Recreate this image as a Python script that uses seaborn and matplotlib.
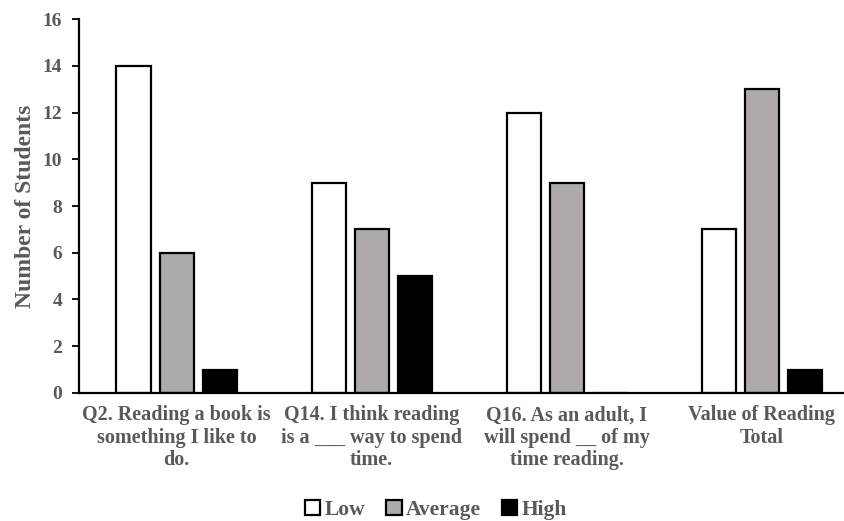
import matplotlib
matplotlib.use("Agg")
import matplotlib.pyplot as plt
import seaborn as sns
import pandas as pd

questions = [
    "Q2. Reading a book is\nsomething I like to\ndo.",
    "Q14. I think reading\nis a ___ way to spend\ntime.",
    "Q16. As an adult, I\nwill spend __ of my\ntime reading.",
    "Value of Reading\nTotal",
]
levels = ["Low", "Average", "High"]
low = [14, 9, 12, 7]
average = [6, 7, 9, 13]
high = [1, 5, 0, 1]
y_ticks = [0, 2, 4, 6, 8, 10, 12, 14, 16]

rows = []
for level, values in zip(levels, [low, average, high]):
    for q, v in zip(questions, values):
        rows.append({"Question": q, "Level": level, "Students": v})
df = pd.DataFrame(rows)

sns.set_theme(style="white")
plt.rcParams["font.family"] = ["Liberation Serif", "DejaVu Serif"]
plt.rcParams["font.weight"] = "bold"
text_color = "#595959"

fig = plt.figure(figsize=(8.45, 5.21), dpi=100)
ax = fig.add_axes([0.0935, 0.2457, 0.9235, 0.7178])

palette = {"Low": "#FFFFFF", "Average": "#AEAAAA", "High": "#000000"}
sns.barplot(
    data=df, x="Question", y="Students", hue="Level",
    hue_order=levels, order=questions, palette=palette,
    edgecolor="black", linewidth=1.6, width=0.662, gap=0.21,
    saturation=1, ax=ax, legend=True,
)

ax.set_ylim(0, 16)
ax.set_yticks(y_ticks)
ax.set_xlim(-0.5, 3.5)
ax.set_xlabel("")
ax.set_ylabel("Number of Students", fontsize=17, fontweight="bold",
              color=text_color, labelpad=5)
for s in ["top", "right"]:
    ax.spines[s].set_visible(False)
for s in ["left", "bottom"]:
    ax.spines[s].set_color("black")
    ax.spines[s].set_linewidth(1.6)
ax.tick_params(axis="y", which="major", direction="out", length=5, width=1.3,
               color="black", left=True, labelsize=14, labelcolor=text_color, pad=7)
ax.tick_params(axis="x", length=0, labelsize=14.5, labelcolor=text_color, pad=9)
for lbl in ax.get_xticklabels() + ax.get_yticklabels():
    lbl.set_fontweight("bold")
for lbl in ax.get_xticklabels():
    lbl.set_multialignment("center")
    lbl.set_linespacing(1.15)

handles, labels = ax.get_legend_handles_labels()
ax.get_legend().remove()
leg = fig.legend(handles, labels, loc="center", bbox_to_anchor=(0.516, 0.022),
                 ncol=3, frameon=False, fontsize=15.5, handlelength=0.7,
                 handleheight=0.7, handletextpad=0.2, columnspacing=1.0)
for t in leg.get_texts():
    t.set_color(text_color)
    t.set_fontweight("bold")

fig.savefig("out.png", dpi=100)
